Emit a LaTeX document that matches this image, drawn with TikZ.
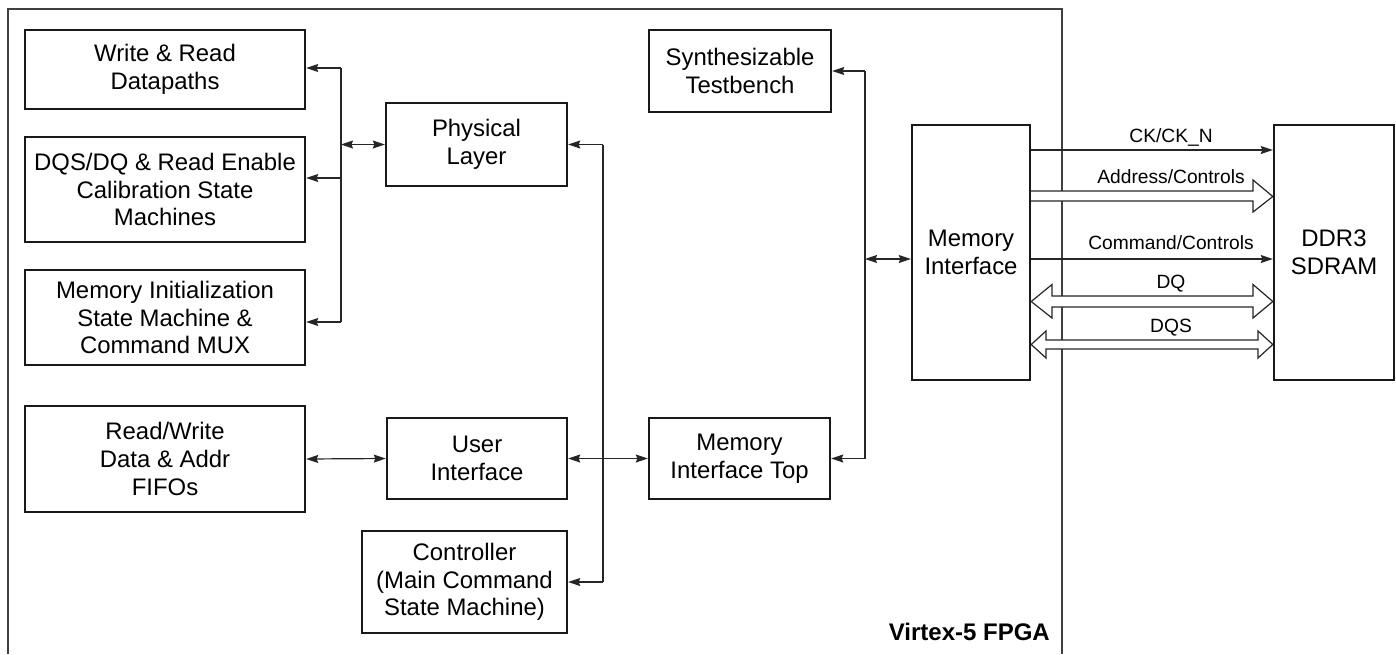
\documentclass[tikz,border=0pt]{standalone}
\usepackage{fontspec}
\setmainfont{Liberation Sans}
\usetikzlibrary{arrows.meta}
\begin{document}
\begin{tikzpicture}[x=1pt,y=-1pt,
  box/.style={draw=black!90,line width=2.4pt,inner sep=0pt,align=center,
    font=\fontsize{23.9}{27.8}\selectfont},
  conn/.style={draw=black!85,line width=1.2pt},
  tip/.style={-{Stealth[length=12pt,width=8pt,inset=1.5pt]}},
  dtip/.style={{Stealth[length=12pt,width=8pt,inset=1.5pt]}-{Stealth[length=12pt,width=8pt,inset=1.5pt]}},
  bus/.style={draw=black!85,line width=1.2pt,fill=white,line join=miter},
  lbl/.style={inner sep=0pt,font=\fontsize{19.2}{22}\selectfont}]
\useasboundingbox (0,0) rectangle (1396,654);
% FPGA outline
\draw[black!75,line width=1.5pt] (8,654) -- (8,9) -- (1062,9) -- (1062,654);
\node[anchor=base east,inner sep=0pt,font=\bfseries\fontsize{24}{28}\selectfont] (fpga) at (1050,640) {Virtex-5 FPGA};
% boxes
\node[box,minimum width=280pt,minimum height=79pt] (wr) at (165,69.5) {Write \& Read\\Datapaths};
\node[box,minimum width=280pt,minimum height=105pt] (dqs) at (165,189.5) {DQS/DQ \& Read Enable\\Calibration State\\Machines};
\node[box,minimum width=280pt,minimum height=95pt] (mini) at (165,317.5) {Memory Initialization\\State Machine \&\\Command MUX};
\node[box,minimum width=280pt,minimum height=106pt] (fifo) at (165,459) {Read/Write\\Data \& Addr\\FIFOs};
\node[box,minimum width=181pt,minimum height=83pt] (phy) at (476.5,144.5) {Physical\\Layer};
\node[box,minimum width=180pt,minimum height=81pt] (ui) at (477,458.5) {User\\Interface};
\node[box,minimum width=205pt,minimum height=102pt] (ctrl) at (464.5,582) {Controller\\(Main Command\\State Machine)};
\node[box,minimum width=181pt,minimum height=81pt] (mit) at (739.5,458.5) {Memory\\Interface Top};
\node[box,minimum width=182pt,minimum height=82pt] (tb) at (740,71) {Synthesizable\\Testbench};
\node[box,minimum width=118pt,minimum height=255pt] (mi) at (971,252.5) {Memory\\Interface};
\node[box,minimum width=120pt,minimum height=255pt] (ddr) at (1334,252.5) {DDR3\\SDRAM};
% left bus
\coordinate (l1) at (341,68);
\coordinate (l2) at (341,178);
\coordinate (l3) at (341,322);
\draw[conn] (l1) -- (l3);
\draw[conn,tip] (l1) -- (wr.east |- l1);
\draw[conn,tip] (l2) -- (dqs.east |- l2);
\draw[conn,tip] (l3) -- (mini.east |- l3);
\draw[conn,dtip] (l1 |- phy.west) -- (phy.west);
% central bus
\coordinate (c1) at (603,144.5);
\coordinate (c2) at (603,582);
\draw[conn] (c1) -- (c2);
\draw[conn,tip] (c1) -- (phy.east);
\draw[conn,tip] (c2) -- (ctrl.east);
\draw[conn,dtip] (ui.east) -- (mit.west);
\draw[conn,dtip] (fifo.east) -- (ui.west);
% right bus
\coordinate (r1) at (865,71);
\coordinate (r2) at (865,458.5);
\coordinate (r3) at (865,259);
\draw[conn] (r1) -- (r2);
\draw[conn,tip] (r1) -- (tb.east);
\draw[conn,tip] (r2) -- (mit.east);
\draw[conn,dtip] (r3) -- (mi.west |- r3);
% memory signals
\draw[conn,tip] (mi.east |- 0,150) -- (ddr.west |- 0,150);
\draw[conn,tip] (mi.east |- 0,259) -- (ddr.west |- 0,259);
\draw[bus] (mi.east |- 0,191) -- (1253,191) -- (1253,180) -- (ddr.west |- 0,196.5) -- (1253,212) -- (1253,201) -- (mi.east |- 0,201);
\draw[bus] (1052,296) -- (1253,296) -- (1253,284.5) -- (ddr.west |- 0,301.5) -- (1253,318) -- (1253,307) -- (1052,307) -- (1052,318) -- (mi.east |- 0,301.5) -- (1052,284.5) -- cycle;
\draw[bus] (1046,340) -- (1258,340) -- (1258,331) -- (ddr.west |- 0,344.5) -- (1258,358) -- (1258,349) -- (1046,349) -- (1046,358) -- (mi.east |- 0,344.5) -- (1046,331) -- cycle;
% labels
\node[lbl] (lck) at (1171,137) {CK/CK\_N};
\node[lbl] (lad) at (1171,177) {Address/Controls};
\node[lbl] (lcm) at (1171,243) {Command/Controls};
\node[lbl] (ldq) at (1171,284) {DQ};
\node[lbl] (ldqs) at (1171,328) {DQS};
\end{tikzpicture}
\end{document}
